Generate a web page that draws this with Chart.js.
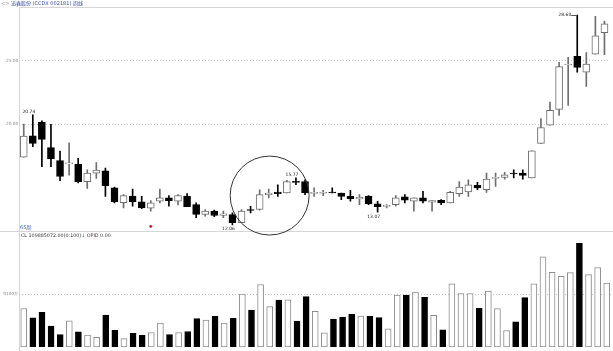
<!DOCTYPE html>
<html>
<head>
<meta charset="utf-8">
<script src="https://cdn.jsdelivr.net/npm/chart.js@4.4.1/dist/chart.umd.min.js"></script>
<style>
body { margin: 0; background: #fff; width: 613px; height: 351px; overflow: hidden; position: relative;
  font-family: "DejaVu Sans", "Noto Sans CJK SC", sans-serif; }
#price-box { position: absolute; left: 0; top: 0; width: 613px; height: 240px; z-index: 2; }
#volume-box { position: absolute; left: 0; top: 232px; width: 613px; height: 119px; z-index: 1; }
.rule { position: absolute; background: #d6d6d6; }
.txt { position: absolute; white-space: nowrap; line-height: 1; z-index: 3; }
</style>
</head>
<body>
<div class="rule" style="left:19px;top:7px;width:594px;height:1px"></div>
<div class="rule" style="left:0;top:231px;width:613px;height:1px"></div>
<div class="rule" style="left:19px;top:7px;width:1px;height:344px"></div>
<div class="txt" style="left:1px;top:1px;font-size:5px;color:#3a4a9c"><span style="color:#999">&lt;&gt;</span> 迅鑫股份 (CCDX 002181) 周线</div>
<div class="txt" style="left:20px;top:225px;font-size:5px;color:#2f5fb3">65周</div>
<div class="txt" style="left:21px;top:234px;font-size:4.8px;color:#333">CL 109885072.00(0:100)<span style="color:#2a9a2a">↓</span> OPID 0.00</div>
<div id="price-box"><canvas id="price-chart"></canvas></div>
<div id="volume-box"><canvas id="volume-chart"></canvas></div>
<script>
// weekly OHLC
var opens  = [17.40,19.09,20.16,18.15,17.13,16.88,16.85,15.47,16.15,16.33,14.99,13.82,14.33,13.88,13.38,13.93,14.20,13.93,14.33,13.67,
              12.89,13.15,12.81,12.89,12.24,13.23,13.28,14.45,14.66,14.58,15.50,15.49,14.55,14.56,14.66,14.58,14.32,14.12,14.32,13.73,
              13.53,13.67,14.27,13.93,14.20,13.85,14.01,13.80,14.53,14.66,15.18,14.84,15.73,15.80,16.12,16.15,15.76,18.49,19.92,21.17,
              24.66,25.34,24.09,25.52,27.21];
var highs  = [20.00,20.74,20.26,19.98,17.89,18.54,17.32,16.41,16.98,16.54,15.05,14.45,14.90,14.32,13.98,14.90,14.38,14.45,14.53,13.80,
              13.28,13.23,13.15,13.02,13.28,13.54,14.84,14.90,15.23,15.57,15.77,15.62,14.98,14.79,14.98,14.58,14.79,14.45,14.38,13.93,
              13.67,14.38,14.45,14.20,14.71,13.98,14.06,14.71,15.49,15.62,15.42,16.15,16.15,16.20,16.41,16.41,17.91,20.44,21.74,24.87,
              25.26,28.60,25.65,28.50,28.13];
var lows   = [17.40,18.23,16.66,16.66,15.55,15.99,15.37,14.95,15.73,14.32,13.80,13.41,13.54,13.34,13.15,13.80,13.54,13.65,13.50,12.63,
              12.76,12.71,12.63,12.06,12.24,13.02,13.23,14.20,14.32,14.58,15.23,14.45,14.32,14.38,14.58,14.06,13.93,13.67,13.67,13.07,
              13.41,13.54,13.80,13.15,13.80,13.15,13.67,13.80,14.32,14.32,14.84,14.63,15.10,15.68,15.77,15.68,15.76,18.49,19.92,20.70,
              21.48,24.09,22.97,25.52,25.47];
var closes = [19.06,18.49,18.80,17.27,15.88,16.93,15.47,16.15,16.38,15.16,13.88,14.38,13.88,13.41,13.80,14.20,13.98,14.38,13.50,12.89,
              13.15,12.81,12.94,12.25,13.15,13.20,14.45,14.58,14.53,15.49,15.42,14.58,14.60,14.60,14.58,14.32,14.14,14.24,13.73,13.50,
              13.56,14.20,14.01,14.20,13.93,13.98,13.80,14.63,15.05,15.23,14.98,15.68,15.77,16.02,16.08,15.96,17.91,19.74,21.09,24.53,
              24.69,24.48,24.74,26.95,27.91];
// weekly volume, in 万 shares
var volumes = [6606,4992,5940,3611,2113,4493,2612,2047,1664,5491,2879,1448,2330,1997,2496,4110,2113,2496,2662,4876,
               4609,5275,4110,4942,9102,6323,10700,6939,8037,8104,4443,8653,6107,2446,4776,5158,5608,5325,5275,5042,
               3112,8936,8936,9435,8536,5441,2945,10866,9152,9152,6656,9601,6606,2829,4326,8486,10866,15475,12813,12147,
               12763,17805,12430,13645,10988];
var priceTicks = [20, 25];
var volumeTicks = [9100];
var signalWeek = 14;
var signalPrice = 11.95;
// price labels on the candles: week index and which end
var priceNotes = [
  {week: 1, end: 'high'},
  {week: 23, end: 'low'},
  {week: 30, end: 'high'},
  {week: 39, end: 'low'},
  {week: 61, end: 'high', side: true}
];
var circleNote = {week: 27.1, price: 14.38, bars: 4.35};

var weeks = opens.map(function (o, i) { return i + 1; });
var isUp = opens.map(function (o, i) { return closes[i] >= o; });
var hollowEdge = '#6e6e6e';

Chart.defaults.font.family = '"DejaVu Sans", sans-serif';

var notesPlugin = {
  id: 'notes',
  afterDatasetsDraw: function (chart) {
    var ctx = chart.ctx;
    var xs = chart.scales.x, ys = chart.scales.y;
    ctx.save();
    ctx.font = '4.5px "DejaVu Sans"';
    ctx.fillStyle = '#222';
    ctx.strokeStyle = '#555';
    ctx.lineWidth = 1;
    priceNotes.forEach(function (n) {
      var i = n.week;
      var x = xs.getPixelForValue(i);
      var v = n.end === 'high' ? highs[i] : lows[i];
      var y = ys.getPixelForValue(v);
      var label = v.toFixed(2);
      if (n.side) {
        ctx.textAlign = 'right';
        ctx.textBaseline = 'middle';
        ctx.fillText(label, x - 6, y);
        ctx.beginPath();
        ctx.moveTo(x - 6, y + 0.5);
        ctx.lineTo(x, y + 0.5);
        ctx.stroke();
      } else if (n.end === 'high') {
        ctx.textAlign = 'right';
        ctx.textBaseline = 'bottom';
        ctx.fillText(label, x + 2.5, y - 1);
      } else {
        ctx.textAlign = 'right';
        ctx.textBaseline = 'top';
        ctx.fillText(label, x + 2.5, y + 2);
      }
    });
    var cx = xs.getPixelForValue(circleNote.week);
    var cy = ys.getPixelForValue(circleNote.price);
    var r = circleNote.bars * (xs.getPixelForValue(1) - xs.getPixelForValue(0));
    ctx.strokeStyle = '#333';
    ctx.beginPath();
    ctx.arc(cx, cy, r, 0, Math.PI * 2);
    ctx.stroke();
    ctx.restore();
  }
};

var axisWidth = function (scale) { scale.width = 19.2; };

var priceChart = new Chart(document.getElementById('price-chart'), {
  type: 'bar',
  data: {
    labels: weeks,
    datasets: [
      {
        type: 'line',
        data: weeks.map(function (w, i) { return i === signalWeek ? signalPrice : null; }),
        showLine: false,
        pointRadius: 1.4,
        pointBackgroundColor: '#e0101a',
        pointBorderWidth: 0,
        order: -1
      },
      {
        data: opens.map(function (o, i) { return [Math.min(o, closes[i]), Math.max(o, closes[i])]; }),
        backgroundColor: isUp.map(function (u) { return u ? '#ffffff' : '#000000'; }),
        borderColor: isUp.map(function (u) { return u ? hollowEdge : '#000000'; }),
        borderWidth: 1,
        borderSkipped: false,
        barThickness: 7,
        minBarLength: 1,
        grouped: false,
        order: 0
      },
      {
        data: lows.map(function (l, i) { return [l, highs[i]]; }),
        backgroundColor: isUp.map(function (u) { return u ? hollowEdge : '#000000'; }),
        borderWidth: 0,
        barThickness: 1,
        grouped: false,
        order: 1
      }
    ]
  },
  options: {
    responsive: true,
    maintainAspectRatio: false,
    animation: false,
    devicePixelRatio: 1,
    layout: { padding: { top: 7, bottom: 8, left: 0, right: 1.7 } },
    plugins: { legend: { display: false }, tooltip: { enabled: false } },
    scales: {
      x: { type: 'category', display: false, offset: true },
      y: {
        min: 11.51,
        max: 29.23,
        afterFit: axisWidth,
        afterBuildTicks: function (scale) { scale.ticks = priceTicks.map(function (v) { return {value: v}; }); },
        ticks: {
          font: { size: 4.3 },
          color: '#8a8a8a',
          padding: 1,
          callback: function (v) { return Number(v).toFixed(2); }
        },
        grid: { color: '#c4c4c4', drawTicks: false },
        border: { display: false, dash: [1, 2] }
      }
    }
  },
  plugins: [notesPlugin]
});

var volumeChart = new Chart(document.getElementById('volume-chart'), {
  type: 'bar',
  data: {
    labels: weeks,
    datasets: [
      {
        data: volumes,
        backgroundColor: isUp.map(function (u) { return u ? '#ffffff' : '#000000'; }),
        borderColor: isUp.map(function (u) { return u ? '#8c8c8c' : '#000000'; }),
        borderWidth: 1,
        borderSkipped: false,
        barThickness: 6
      }
    ]
  },
  options: {
    responsive: true,
    maintainAspectRatio: false,
    animation: false,
    devicePixelRatio: 1,
    layout: { padding: { top: 0, bottom: 4, left: 0, right: 1.7 } },
    plugins: { legend: { display: false }, tooltip: { enabled: false } },
    scales: {
      x: { type: 'category', display: false, offset: true },
      y: {
        min: 0,
        max: 19131,
        afterFit: axisWidth,
        afterBuildTicks: function (scale) { scale.ticks = volumeTicks.map(function (v) { return {value: v}; }); },
        ticks: {
          font: { size: 4.3 },
          color: '#8a8a8a',
          padding: 1,
          callback: function (v) { return v + '万'; }
        },
        grid: { color: '#c4c4c4', drawTicks: false },
        border: { display: false, dash: [1, 2] }
      }
    }
  }
});
</script>
</body>
</html>
